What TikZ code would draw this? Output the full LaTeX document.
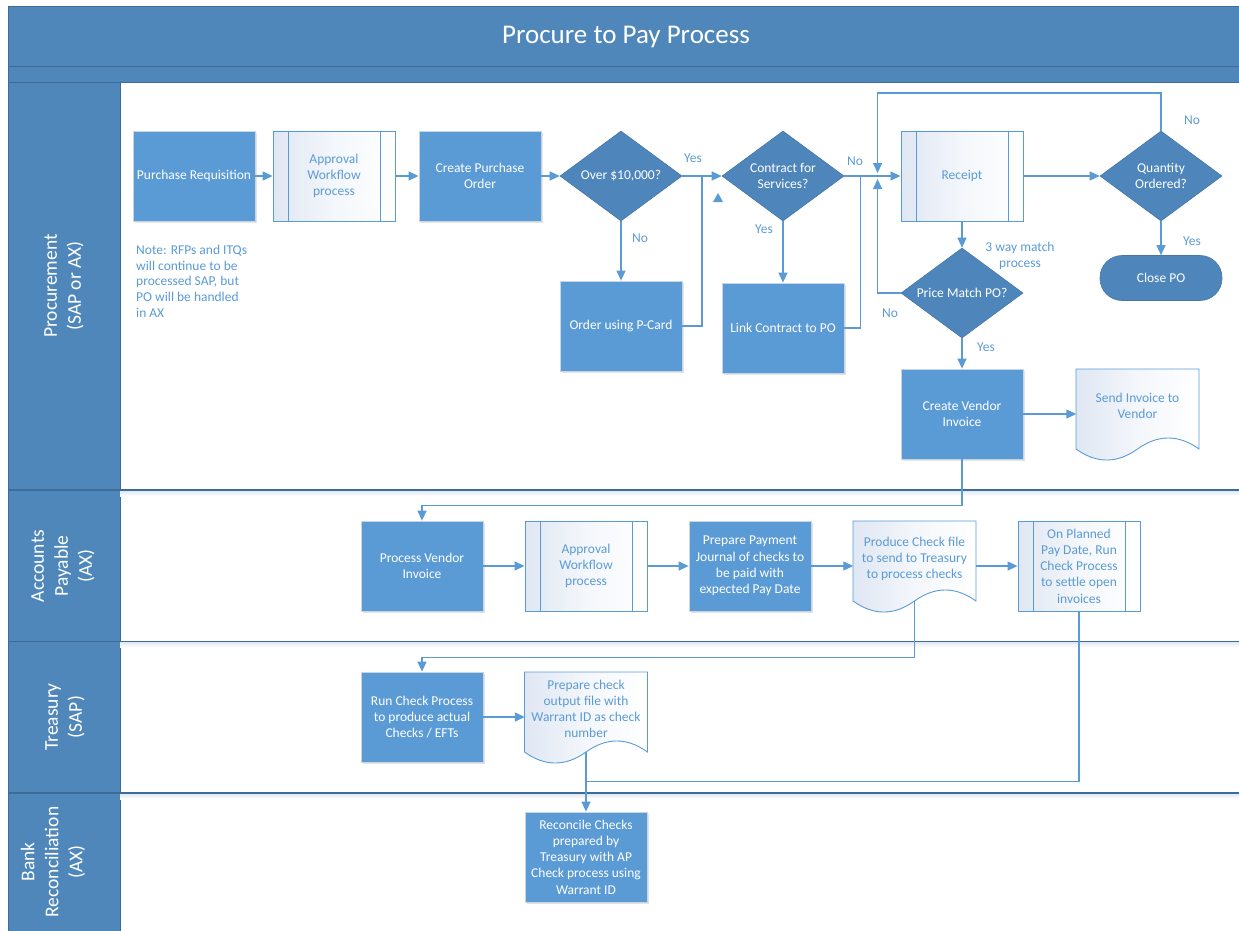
\documentclass[tikz,border=0pt]{standalone}
\usepackage{fontspec}
\setmainfont{Carlito}
\usetikzlibrary{shapes.geometric,calc,arrows.meta,shadows}

\definecolor{hdrblue}{HTML}{4F87BB}
\definecolor{hdrline}{HTML}{3D6C99}
\definecolor{procblue}{HTML}{5B9BD5}
\definecolor{decblue}{HTML}{4E86BC}
\definecolor{lineblue}{HTML}{5B9BD5}
\definecolor{gradblue}{HTML}{DFE7F3}
\definecolor{boxedge}{HTML}{C9D5E3}
\definecolor{laneshade}{HTML}{DCE6F1}

\tikzset{
  base/.style={minimum width=122pt, minimum height=90pt, inner sep=1pt, align=center,
    font=\fontsize{13.5}{16.2}\selectfont},
  procbox/.style={base, rectangle, fill=procblue, draw=boxedge, line width=0.8pt, text=white,
    drop shadow={shadow xshift=1.5pt, shadow yshift=-1.5pt, opacity=.22}},
  subbox/.style={base, rectangle, draw=lineblue, line width=0.9pt, left color=gradblue,
    right color=white, middle color=gradblue!35, text=lineblue,
    path picture={
      \draw[lineblue, line width=0.9pt]
        ([xshift=15pt]path picture bounding box.north west) -- ([xshift=15pt]path picture bounding box.south west)
        ([xshift=-15pt]path picture bounding box.north east) -- ([xshift=-15pt]path picture bounding box.south east);
    }},
  decbox/.style={base, diamond, aspect=1.35, fill=decblue, draw=hdrline!60!decblue, line width=0.6pt, text=white},
  termbox/.style={base, rectangle, minimum height=45pt, rounded corners=22pt, fill=decblue,
    draw=hdrline!60!decblue, line width=0.6pt, text=white},
  docshape/.style={draw=lineblue, line width=0.9pt, left color=gradblue, right color=white,
    middle color=gradblue!35},
  doctext/.style={base, rectangle, text=lineblue},
  flow/.style={draw=lineblue, line width=1.3pt, -{Triangle[length=10pt,width=9pt]}},
  link/.style={draw=lineblue, line width=1.3pt},
  tag/.style={text=lineblue, inner sep=0pt, font=\fontsize{13.5}{16.2}\selectfont, align=center},
  lanelabel/.style={text=white, inner sep=0pt, align=center, rotate=90,
    font=\fontsize{19.5}{24}\selectfont},
  laneline/.style={draw=hdrline, line width=1.2pt},
}

% document symbol: straight top and sides, wavy bottom edge
\newcommand\docnode[4]{%
  \path[docshape] (#2-61.5,#3) -- (#2+61.5,#3) -- (#2+61.5,#3+80)
    .. controls (#2+41,#3+65.3) and (#2+20.5,#3+65.3) .. (#2,#3+80)
    .. controls (#2-20.5,#3+94.7) and (#2-41,#3+94.7) .. (#2-61.5,#3+80) -- cycle;
  \node[doctext] (#1) at (#2,#3+45) {#4};
}

\begin{document}
\begin{tikzpicture}[x=1pt, y=-1pt]
\useasboundingbox (0,0) rectangle (1239,930);

% ---- swimlane frame ----
\fill[hdrblue] (8,6) rectangle (1240,82);
\fill[hdrblue] (8,82) rectangle (120,931);
\draw[hdrline, line width=1pt] (8,931) -- (8,6) -- (1240,6);
\draw[hdrline, line width=1pt] (8,66.5) -- (1240,66.5);
\draw[hdrline, line width=1pt] (8,82) -- (1240,82);
\draw[hdrline, line width=1pt] (120,82) -- (120,931);
\node[text=white, inner sep=0pt, font=\fontsize{27}{32}\selectfont] (title) at (626,37) {Procure to Pay Process};

\foreach \ly in {490,641.5,793}{
  \shade[top color=laneshade, bottom color=white] (120,\ly) rectangle (1240,\ly+6);
  \draw[laneline] (8,\ly) -- (1240,\ly);
}

\node[lanelabel] (lane1) at (64,286) {Procurement\\(SAP or AX)};
\node[lanelabel] (lane2) at (63,566) {Accounts\\Payable\\(AX)};
\node[lanelabel] (lane3) at (65,717) {Treasury\\(SAP)};
\node[lanelabel] (lane4) at (53,862) {Bank\\Reconciliation\\(AX)};

% ---- Procurement ----
\node[procbox] (pr) at (194,176) {Purchase Requisition};
\node[subbox] (aw1) at (334,176) {Approval\\Workflow\\process};
\node[procbox] (cpo) at (480,176) {Create Purchase\\Order};
\node[decbox] (over) at (621,176) {Over \$10,000?};
\node[decbox] (contract) at (783,176) {Contract for\\Services?};
\node[procbox] (pcard) at (621,326) {Order using P-Card};
\node[procbox] (linkpo) at (783,328) {Link Contract to PO};
\node[subbox] (receipt) at (962,176) {Receipt};
\node[decbox] (qty) at (1161,176) {Quantity\\Ordered?};
\node[termbox] (close) at (1161,278) {Close PO};
\node[decbox] (price) at (962,293) {Price Match PO?};
\node[procbox] (cvi) at (962,414) {Create Vendor\\Invoice};
\docnode{siv}{1137.5}{369}{Send Invoice to\\Vendor\\\mbox{}}

\node[tag, align=left, anchor=north west, font=\fontsize{13.5}{15.7}\selectfont] (note) at (136,245)
  {Note: RFPs and ITQs\\will continue to be\\processed SAP, but\\PO will be handled\\in AX};

\draw[flow] (pr) -- (aw1);
\draw[flow] (aw1) -- (cpo);
\draw[flow] (cpo) -- (over);
\draw[flow] (over.east) -- (contract.west);
\draw[flow] (over.south) -- (pcard.north);
\draw[link] (pcard.east) -| ($(over.east)!.5!(contract.west)$);
\draw[flow] (contract.south) -- (linkpo.north);
\draw[flow] (contract.east) -- (receipt.west);
\draw[link] (linkpo.east) -| ($(contract.east)+(16,0)$);
\coordinate (jn) at ($(receipt.west)+(-23,0)$);
\draw[flow] (qty.north) |- ($(jn)+(0,-83)$) -- ($(jn)+(0,-3)$);
\draw[flow] (price.west) -| ($(jn)+(0,3)$);
\draw[flow] (receipt.east) -- (qty.west);
\draw[flow] (qty.south) -- (close.north);
\draw[flow] (receipt.south) -- (price.north);
\draw[flow] (price.south) -- (cvi.north);
\draw[flow] (cvi.east) -- (siv.west);
\fill[lineblue] (713,202) -- (723,202) -- (718,193) -- cycle;

\node[tag] (yes1) at (693,158) {Yes};
\node[tag] (no1) at (640,238) {No};
\node[tag] (yes2) at (764,229) {Yes};
\node[tag] (no2) at (855,161) {No};
\node[tag] (no3) at (1192,120) {No};
\node[tag] (yes3) at (1192,241) {Yes};
\node[tag] (no4) at (890,313) {No};
\node[tag] (yes4) at (986,347) {Yes};
\node[tag] (match) at (1020,256) {3 way match\\process};

% ---- Accounts Payable ----
\node[procbox] (pvi) at (422,566) {Process Vendor\\Invoice};
\node[subbox] (aw2) at (586,566) {Approval\\Workflow\\process};
\node[procbox] (ppj) at (750,566) {Prepare Payment\\Journal of checks to\\be paid with\\expected Pay Date};
\docnode{pcf}{914.5}{521}{Produce Check file\\to send to Treasury\\to process checks\\\mbox{}}
\node[subbox] (opd) at (1079,566) {On Planned\\Pay Date, Run\\Check Process\\to settle open\\invoices};

\draw[flow] (cvi.south) -- ++(0,46) -| (pvi.north);
\draw[flow] (pvi) -- (aw2);
\draw[flow] (aw2) -- (ppj);
\draw[flow] (ppj) -- (pcf);
\draw[flow] (pcf) -- (opd);

% ---- Treasury ----
\node[procbox] (rcp) at (422,717) {Run Check Process\\to produce actual\\Checks / EFTs};
\docnode{pco}{586}{672}{Prepare check\\output file with\\Warrant ID as check\\number\\\mbox{}}

\draw[flow] ($(pcf.south)+(0,-10)$) -- ++(0,56) -| (rcp.north);
\draw[flow] (rcp) -- (pco);
\draw[link] (opd.south) |- ($(pco.south)+(0,19)$);

% ---- Bank Reconciliation ----
\node[procbox] (rec) at (586,857) {Reconcile Checks\\prepared by\\Treasury with AP\\Check process using\\Warrant ID};
\draw[flow] ($(pco.south)+(0,-10)$) -- (rec.north);

\end{tikzpicture}
\end{document}
